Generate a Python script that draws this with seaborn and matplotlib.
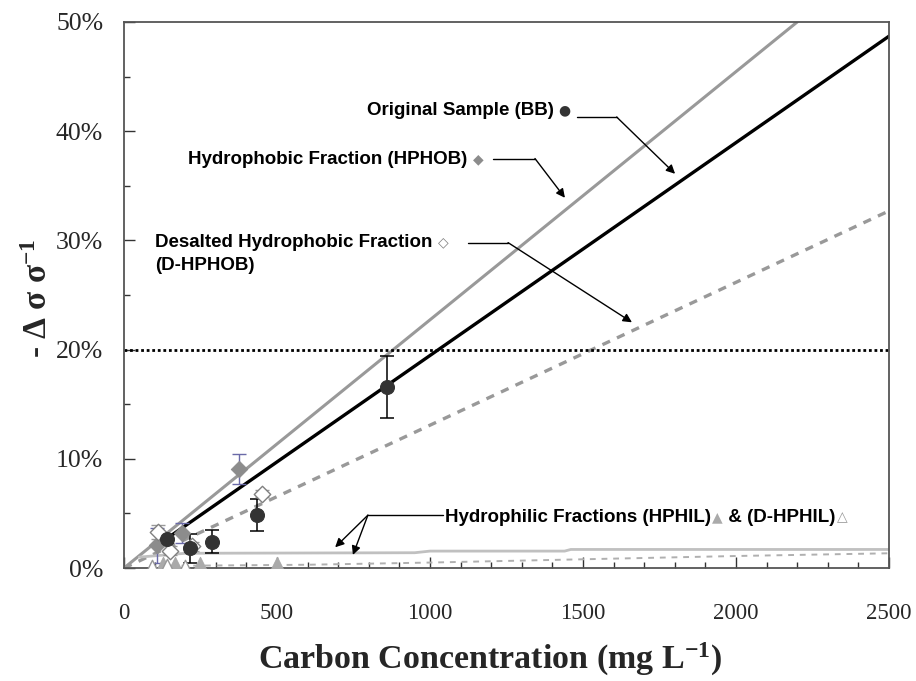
import matplotlib
matplotlib.use('Agg')
import matplotlib.pyplot as plt
import seaborn as sns
from matplotlib.ticker import MultipleLocator, PercentFormatter

# ---- measured points (x in mg/L, y in %) ----
bb_x = [140, 216, 288, 435, 859]
bb_y = [2.7, 1.8, 2.4, 4.85, 16.6]
bb_err = [0.4, 1.35, 1.05, 1.5, 2.85]

hphob_x = [108, 190, 376]
hphob_y = [2.1, 3.2, 9.05]
hphob_err = [1.6, 0.9, 1.35]

dhphob_x = [111, 150, 222, 451]
dhphob_y = [3.3, 1.6, 2.0, 6.8]
dhphob_err = [0.6, 0.4, 0.4, 0.3]

hphil_x = [127, 167, 248, 500]
hphil_y = [0.45, 0.45, 0.45, 0.5]

dhphil_x = [90, 140, 200]
dhphil_y = [0.2, 0.25, 0.2]

# ---- fitted lines (end / break points) ----
bb_fit_x = [140, 2500]
bb_fit_y = [2.7, 48.7]
hphob_fit_x = [0, 2200]
hphob_fit_y = [0, 50]
dhphob_fit_x = [0, 2500]
dhphob_fit_y = [0, 32.7]
hphil_fit_x = [50, 200, 950, 1000, 1440, 1460, 2500]
hphil_fit_y = [1.0, 1.35, 1.4, 1.55, 1.55, 1.7, 1.7]
dhphil_fit_x = [150, 600, 1000, 1500, 2000, 2500]
dhphil_fit_y = [0.2, 0.3, 0.5, 0.8, 1.1, 1.35]
threshold = 20

sns.set_theme(style="white")
plt.rcParams['font.family'] = ['Liberation Serif', 'DejaVu Serif']
plt.rcParams['mathtext.fontset'] = 'custom'
plt.rcParams['mathtext.rm'] = 'Liberation Serif'
plt.rcParams['mathtext.bf'] = 'Liberation Serif:bold'
plt.rcParams['mathtext.default'] = 'bf'

fig = plt.figure(figsize=(9.16, 6.81), dpi=100)
ax = fig.add_axes([0.1354, 0.1659, 0.8351, 0.8018])

# fit lines
sns.lineplot(x=hphob_fit_x, y=hphob_fit_y, ax=ax, color='#999999', lw=2.2, zorder=2)
sns.lineplot(x=bb_fit_x, y=bb_fit_y, ax=ax, color='black', lw=2.4, zorder=2)
sns.lineplot(x=dhphob_fit_x, y=dhphob_fit_y, ax=ax, color='#999999', lw=2.4,
             linestyle=(0, (2.5, 2.3)), zorder=2)
sns.lineplot(x=hphil_fit_x, y=hphil_fit_y, ax=ax, color='#c0c0c0', lw=2.0, zorder=2)
sns.lineplot(x=dhphil_fit_x, y=dhphil_fit_y, ax=ax, color='#b0b0b0', lw=1.4,
             linestyle=(0, (3, 3)), zorder=2)
ax.axhline(threshold, color='black', lw=2.0, linestyle=(0, (1, 1)), zorder=2)

# error bars
ax.errorbar(bb_x, bb_y, yerr=bb_err, fmt='none', ecolor='black', elinewidth=1.1,
            capsize=5, capthick=1.1, zorder=3)
ax.errorbar(hphob_x, hphob_y, yerr=hphob_err, fmt='none', ecolor='#6a6aa8',
            elinewidth=1.0, capsize=5, capthick=1.0, zorder=3)
ax.errorbar(dhphob_x, dhphob_y, yerr=dhphob_err, fmt='none', ecolor='#999999',
            elinewidth=1.0, capsize=5, capthick=1.0, zorder=3)

# points
sns.scatterplot(x=hphil_x, y=hphil_y, ax=ax, marker='^', s=80, color='#aaaaaa',
                edgecolor='#aaaaaa', zorder=4)
sns.scatterplot(x=dhphil_x, y=dhphil_y, ax=ax, marker='^', s=80, facecolor='white',
                edgecolor='#999999', linewidth=1, zorder=4)
sns.scatterplot(x=hphob_x, y=hphob_y, ax=ax, marker='D', s=70, color='#8c8c8c',
                edgecolor='#8c8c8c', zorder=4)
sns.scatterplot(x=dhphob_x, y=dhphob_y, ax=ax, marker='D', s=70, facecolor='white',
                edgecolor='#808080', linewidth=1, zorder=4)
sns.scatterplot(x=bb_x, y=bb_y, ax=ax, marker='o', s=100, color='#333333',
                edgecolor='#333333', zorder=5)

# axes
ax.set_xlim(0, 2500)
ax.set_ylim(0, 50)
ax.xaxis.set_major_locator(MultipleLocator(500))
ax.xaxis.set_minor_locator(MultipleLocator(100))
ax.yaxis.set_major_locator(MultipleLocator(10))
ax.yaxis.set_minor_locator(MultipleLocator(5))
ax.yaxis.set_major_formatter(PercentFormatter(xmax=100, decimals=0))
ax.tick_params(which='both', direction='in', color='#333333', width=1,
               bottom=True, left=True, top=False, right=False)
ax.tick_params(which='major', length=8)
ax.tick_params(which='minor', length=4.5)
ax.tick_params(axis='x', which='major', pad=25, labelsize=16.5)
ax.tick_params(axis='y', which='major', pad=15, labelsize=18.5)
for s in ax.spines.values():
    s.set_color('#555555')
    s.set_linewidth(1.3)

ax.set_xlabel('Carbon Concentration (mg L$^{-1}$)', fontsize=24.5, fontweight='bold')
ax.xaxis.label.set_va('baseline')
ax.xaxis.set_label_coords(0.478, -0.184)
ax.set_ylabel('- Δ σ σ$^{-1}$', fontsize=24, fontweight='bold')
ax.yaxis.label.set_va('center')
ax.yaxis.set_label_coords(-0.112, 0.494)

# annotations
sans = ['Liberation Sans', 'DejaVu Sans']
glyph = ['DejaVu Sans']
tkw = dict(fontsize=13.5, fontweight='bold', family=sans, color='black', va='center')
akw = dict(arrowstyle='-|>', color='black', lw=1.0, mutation_scale=13, shrinkA=0, shrinkB=0)
lkw = dict(color='black', lw=1.0)

t = ax.text(1405, 41.9, 'Original Sample (BB)', ha='right', **tkw)
ax.annotate('●', xy=(1, 0.5), xycoords=t, xytext=(3, 0), textcoords='offset points',
            va='center', ha='left', fontsize=10, family=glyph, color='#333333')
ax.plot([1480, 1610], [41.3, 41.3], **lkw)
ax.annotate('', xy=(1801, 36.1), xytext=(1610, 41.3), arrowprops=akw)

t = ax.text(1121, 37.4, 'Hydrophobic Fraction (HPHOB)', ha='right', **tkw)
ax.annotate('◆', xy=(1, 0.5), xycoords=t, xytext=(4, 0), textcoords='offset points',
            va='center', ha='left', fontsize=10, family=glyph, color='#8c8c8c')
ax.plot([1206, 1343], [37.5, 37.5], **lkw)
ax.annotate('', xy=(1441, 33.9), xytext=(1343, 37.5), arrowprops=akw)

t = ax.text(101, 29.8, 'Desalted Hydrophobic Fraction', ha='left', **tkw)
ax.text(101, 27.7, '(D-HPHOB)', ha='left', **tkw)
ax.annotate('◇', xy=(1, 0.5), xycoords=t, xytext=(4, 0), textcoords='offset points',
            va='center', ha='left', fontsize=10, family=glyph, color='#808080')
ax.plot([1124, 1255], [29.8, 29.8], **lkw)
ax.annotate('', xy=(1660, 22.5), xytext=(1255, 29.8), arrowprops=akw)

t = ax.text(1049, 4.66, 'Hydrophilic Fractions (HPHIL)', ha='left', **tkw)
t2 = ax.annotate('▲', xy=(1, 0.5), xycoords=t, xytext=(1, 0), textcoords='offset points',
                 va='center', ha='left', fontsize=10, family=glyph, color='#aaaaaa')
t3 = ax.annotate(' & (D-HPHIL)', xy=(1, 0.5), xycoords=t2, xytext=(0, 0),
                 textcoords='offset points', ha='left', **tkw)
ax.annotate('△', xy=(1, 0.5), xycoords=t3, xytext=(1, 0), textcoords='offset points',
            va='center', ha='left', fontsize=10, family=glyph, color='#999999')
ax.plot([797, 1043], [4.84, 4.84], **lkw)
ax.annotate('', xy=(690, 1.9), xytext=(797, 4.84), arrowprops=akw)
ax.annotate('', xy=(748, 1.2), xytext=(797, 4.84), arrowprops=akw)

fig.savefig('out.png', dpi=100)
